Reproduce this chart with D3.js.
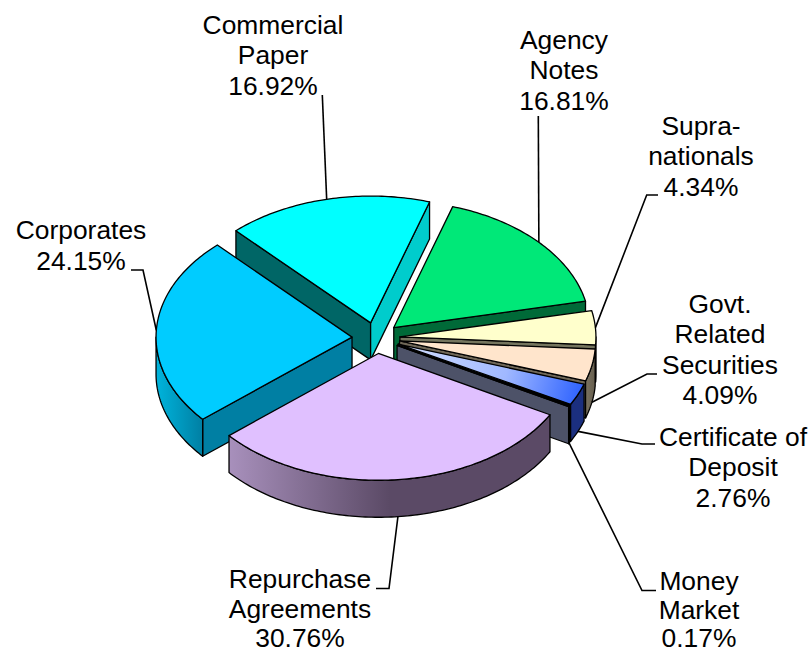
<!DOCTYPE html>
<html>
<head>
<meta charset="utf-8">
<script src="https://cdn.jsdelivr.net/npm/d3@7"></script>
<style>
  html, body { margin: 0; padding: 0; background: #fff; }
  svg { display: block; }
</style>
</head>
<body>
<div id="chart"></div>
<script>
// Slice values, clockwise from the Agency Notes slice
const categories = ["Agency Notes", "Supranationals", "Govt. Related Securities", "Certificate of Deposit",
  "Money Market", "Repurchase Agreements", "Corporates", "Commercial Paper"];
const shares = [16.81, 4.34, 4.09, 2.76, 0.17, 30.76, 24.15, 16.92];
const labelLines = [
  ["Agency", "Notes", "16.81%"],
  ["Supra-", "nationals", "4.34%"],
  ["Govt.", "Related", "Securities", "4.09%"],
  ["Certificate of", "Deposit", "2.76%"],
  ["Money", "Market", "0.17%"],
  ["Repurchase", "Agreements", "30.76%"],
  ["Corporates", "24.15%"],
  ["Commercial", "Paper", "16.92%"]
];

// Colours per slice: top face, end wall, start wall, rim gradient
const topColors = ["#00E878", "#FFFFCC", "#FFE5CC", "url(#cdTop)", "#000000", "#E0C0FF", "#00CCFF", "#00FFFF"];
const endWallColors = ["#006A38", "#75755E", "#6F6757", "#000000", "#4D5268", "#5B4A66", "#007FA3", "#00CCCC"];
const startWallColors = [null, null, null, null, null, null, "#007FA3", "#006666"];
const rimStops = [
  ["#00A05A", "#006A38"], ["#8A8A6A", "#75755E"], ["#7A7260", "#665E4E"], ["#1B2F7F", "#1B2F7F"],
  ["#4D5268", "#4D5268"], ["#A890BC", "#5B4A66", "#5B4A66"], ["#00B4DC", "#007FA3"], ["#00CCCC", "#00CCCC"]
];

// Page layout of the exploded pie
const width = 811, height = 653;
const cx = 376, cy = 338;
const radius = 196, tilt = 0.647, explode = 24, depth = 37;
const firstAngle = 17.5 * Math.PI / 180;

// First baseline, line step and leader elbows of each label, same order as categories
const labelPos = [
  { x: 564, y: 49, step: 30.4, elbow: [[538.3, 116]] },
  { x: 701, y: 135, step: 30.4, elbow: [[646.7, 195], [658, 195]] },
  { x: 720, y: 313, step: 30.4, elbow: [[647, 374], [657, 374]] },
  { x: 733, y: 446, step: 30.4, elbow: [[642, 444], [655, 444]] },
  { x: 699, y: 590, step: 28.7, elbow: [[642, 590.5], [656, 590.5]] },
  { x: 300, y: 588, step: 29.7, elbow: [[389, 588.5], [376, 588.5]] },
  { x: 81, y: 239, step: 30.6, elbow: [[143, 270], [131, 270]] },
  { x: 273, y: 33.5, step: 30.6, elbow: [[322.3, 95]] }
];
// Draw order, back to front
const drawOrder = [7, 0, 1, 2, 3, 4, 6, 5];

const pie = d3.pie().sort(null).value(d => d)
  .startAngle(firstAngle).endAngle(firstAngle + 2 * Math.PI);
const arcs = pie(shares);

// flat pie angle -> page position
const dirX = a => Math.sin(a);
const dirY = a => -tilt * Math.cos(a);

function apexOf(arc) {
  const mid = (arc.startAngle + arc.endAngle) / 2;
  return [cx + explode * dirX(mid), cy + explode * dirY(mid)];
}
function rimPoint(arc, a, dy = 0) {
  const p = apexOf(arc);
  return [p[0] + radius * dirX(a), p[1] + radius * dirY(a) + dy];
}
function rimPoints(arc, a0, a1, dy = 0) {
  const steps = Math.max(2, Math.ceil((a1 - a0) * 60));
  return d3.range(steps + 1).map(i => rimPoint(arc, a0 + (a1 - a0) * i / steps, dy));
}

const line = d3.line();
const svg = d3.select("#chart").append("svg")
  .attr("width", width).attr("height", height)
  .attr("viewBox", [0, 0, width, height]);
const defs = svg.append("defs");

// Gradient on the Certificate of Deposit top
const cdArc = arcs[3];
const cdMid = (cdArc.startAngle + cdArc.endAngle) / 2;
const cdGrad = defs.append("linearGradient").attr("id", "cdTop")
  .attr("gradientUnits", "userSpaceOnUse")
  .attr("x1", apexOf(cdArc)[0]).attr("y1", apexOf(cdArc)[1])
  .attr("x2", rimPoint(cdArc, cdMid)[0]).attr("y2", rimPoint(cdArc, cdMid)[1]);
cdGrad.append("stop").attr("offset", "0%").attr("stop-color", "#D4E0FF");
cdGrad.append("stop").attr("offset", "60%").attr("stop-color", "#A0B8FF");
cdGrad.append("stop").attr("offset", "100%").attr("stop-color", "#3366FF");

const slices = svg.append("g").attr("stroke", "#000").attr("stroke-width", 1.3).attr("stroke-linejoin", "round");

drawOrder.forEach(i => {
  const arc = arcs[i];
  const g = slices.append("g").attr("class", "slice");
  const apex = apexOf(arc);
  const a0 = arc.startAngle, a1 = arc.endAngle;

  // start wall faces the viewer only on the left half, end wall only on the right half
  if (Math.sin(a0) < 0) {
    const r = rimPoint(arc, a0);
    g.append("path")
      .attr("d", line([apex, r, [r[0], r[1] + depth], [apex[0], apex[1] + depth]]) + "Z")
      .attr("fill", startWallColors[i]);
  }
  if (Math.sin(a1) > 0) {
    const r = rimPoint(arc, a1);
    g.append("path")
      .attr("d", line([apex, r, [r[0], r[1] + depth], [apex[0], apex[1] + depth]]) + "Z")
      .attr("fill", endWallColors[i]);
  }

  // front part of the rim
  const low = Math.max(a0, Math.PI / 2), high = Math.min(a1, 3 * Math.PI / 2);
  if (high > low) {
    const top = rimPoints(arc, low, high);
    const bottom = rimPoints(arc, low, high, depth).reverse();
    const grad = defs.append("linearGradient").attr("id", "rim" + i)
      .attr("gradientUnits", "userSpaceOnUse")
      .attr("x1", d3.min(top, d => d[0])).attr("x2", d3.max(top, d => d[0]))
      .attr("y1", 0).attr("y2", 0);
    // the colours run left to right on the page
    rimStops[i].forEach((c, k, all) => {
      grad.append("stop").attr("offset", k / (all.length - 1)).attr("stop-color", c);
    });
    g.append("path").attr("d", line(top.concat(bottom)) + "Z").attr("fill", `url(#rim${i})`);
  }

  // top face
  g.append("path")
    .attr("d", line([apex].concat(rimPoints(arc, a0, a1))) + "Z")
    .attr("fill", topColors[i]);
});

// Leader lines start on the outer edge of each slice
const leaders = svg.append("g").attr("fill", "none").attr("stroke", "#000").attr("stroke-width", 1.6);
arcs.forEach((arc, i) => {
  const mid = (arc.startAngle + arc.endAngle) / 2;
  const front = Math.cos(mid) < 0;
  const start = rimPoint(arc, mid, front ? depth : 0);
  leaders.append("path").attr("d", line([start].concat(labelPos[i].elbow)));
});

// Labels
const labels = svg.append("g")
  .attr("font-family", "'Liberation Sans', Arial, sans-serif")
  .attr("font-size", 26.4)
  .attr("fill", "#000")
  .attr("text-anchor", "middle");
labelLines.forEach((rows, i) => {
  const t = labels.append("text").attr("aria-label", categories[i]);
  rows.forEach((row, k) => {
    t.append("tspan")
      .attr("x", labelPos[i].x)
      .attr("y", labelPos[i].y + k * labelPos[i].step)
      .text(row);
  });
});
</script>
</body>
</html>
